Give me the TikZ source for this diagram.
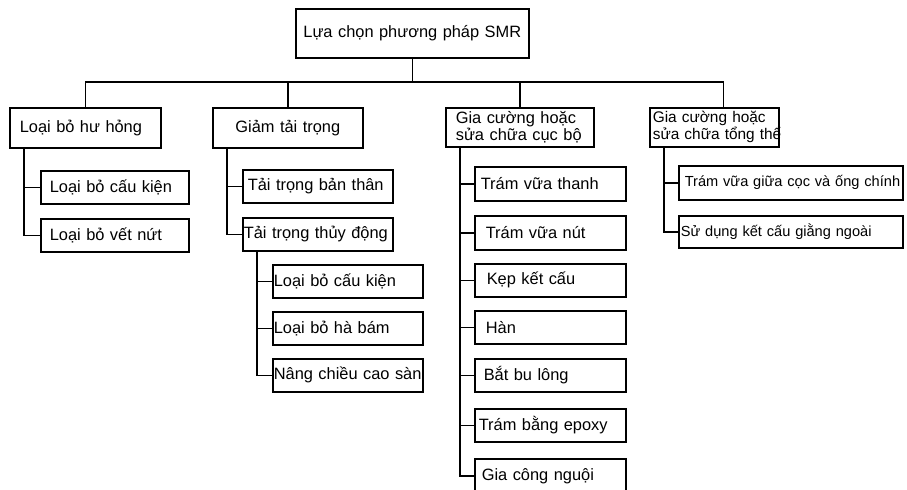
\documentclass[tikz,border=0pt]{standalone}
\usepackage{fontspec}
\setmainfont{Liberation Sans}

\tikzset{
  box/.style={draw,line width=.8pt,anchor=north west,inner xsep=2.5pt,inner ysep=0pt,align=left},
  cell/.style={box,execute at begin node={\hbox\bgroup},execute at end node={\egroup}},
  link/.style={line width=.7pt}
}

\begin{document}
\begin{tikzpicture}[x=.5pt,y=-.5pt,font=\fontsize{8.2}{8.6}\selectfont]
\useasboundingbox (0,0) rectangle (907,489);
% root
\node[cell,align=center,text width=111.5pt,minimum height=24.5pt] (top) at (295,8) {Lựa chọn phương pháp SMR};
\coordinate (bar) at (0,82);
% first level
\node[cell,inner xsep=5pt,text width=65.5pt,minimum height=20pt] (hh) at (9,107) {Loại bỏ hư hỏng};
\node[cell,align=center,text width=70pt,minimum height=20pt] (giam) at (212,107) {Giảm tải trọng};
\node[box,inner xsep=5pt,text width=64pt,minimum height=19.5pt] (cucbo) at (445,107) {\mbox{Gia cường hoặc}\\\mbox{sửa chữa cục bộ}};
\node[box,font=\fontsize{7.7}{8.4}\selectfont,inner xsep=1.5pt,text width=61.5pt,minimum height=19.5pt] (tongthe) at (649,107) {\mbox{Gia cường hoặc}\\\mbox{sửa chữa tổng thể}};
\coordinate (tt top) at ([xshift=4.5pt]tongthe.north);
\draw[link] (top.south) -- (top.south |- bar);
\draw[link] (hh.north) |- (tt top |- bar) -- (tt top);
\draw[link] (giam.north) -- (giam.north |- bar);
\draw[link] (cucbo.north) -- (cucbo.north |- bar);
% Loai bo hu hong
\node[cell,inner xsep=4.5pt,text width=65pt,minimum height=16.5pt] (hh1) at (40,170) {Loại bỏ cấu kiện};
\node[cell,inner xsep=4.5pt,text width=65pt,minimum height=16.5pt] (hh2) at (40,218) {Loại bỏ vết nứt};
\draw[link] ([xshift=7.5pt]hh.south west) |- (hh1.west);
\draw[link] ([xshift=7.5pt]hh.south west) |- (hh2.west);
% Giam tai trong
\node[cell,text width=70pt,minimum height=16.5pt] (g1) at (242,169) {Tải trọng bản thân};
\node[cell,inner xsep=.5pt,text width=74pt,minimum height=16.5pt] (g2) at (242,217) {Tải trọng thủy động};
\draw[link] ([xshift=7.5pt]giam.south west) |- (g1.west);
\draw[link] ([xshift=7.5pt]giam.south west) |- (g2.west);
\node[cell,inner xsep=.5pt,text width=74pt,minimum height=16.5pt] (gg1) at (272,264) {Loại bỏ cấu kiện};
\node[cell,inner xsep=.5pt,text width=74pt,minimum height=16.5pt] (gg2) at (272,311) {Loại bỏ hà bám};
\node[cell,inner xsep=.5pt,text width=74pt,minimum height=16.5pt] (gg3) at (272,358) {Nâng chiều cao sàn};
\draw[link] ([xshift=7.5pt]g2.south west) |- (gg1.west);
\draw[link] ([xshift=7.5pt]g2.south west) |- (gg2.west);
\draw[link] ([xshift=7.5pt]g2.south west) |- (gg3.west);
% Gia cuong cuc bo
\node[cell,inner xsep=3pt,text width=69.5pt,minimum height=17pt] (c1) at (474,166) {Trám vữa thanh};
\node[cell,inner xsep=5.5pt,text width=64.5pt,minimum height=17pt] (c2) at (474,215) {Trám vữa nút};
\node[cell,inner xsep=6pt,text width=63.5pt,minimum height=16.5pt] (c3) at (474,263) {Kẹp kết cấu};
\node[cell,inner xsep=5.5pt,text width=64.5pt,minimum height=16.5pt] (c4) at (474,310) {Hàn};
\node[cell,inner xsep=4.5pt,text width=66.5pt,minimum height=16.5pt] (c5) at (474,358) {Bắt bu lông};
\node[cell,inner xsep=2pt,text width=71.5pt,minimum height=16.5pt] (c6) at (474,408) {Trám bằng epoxy};
\node[cell,inner xsep=3.5pt,text width=68.5pt,minimum height=17pt] (c7) at (474,458) {Gia công nguội};
\draw[link] ([xshift=7.5pt]cucbo.south west) |- (c1.west);
\draw[link] ([xshift=7.5pt]cucbo.south west) |- (c2.west);
\draw[link] ([xshift=7.5pt]cucbo.south west) |- (c3.west);
\draw[link] ([xshift=7.5pt]cucbo.south west) |- (c4.west);
\draw[link] ([xshift=7.5pt]cucbo.south west) |- (c5.west);
\draw[link] ([xshift=7.5pt]cucbo.south west) |- (c6.west);
\draw[link] ([xshift=7.5pt]cucbo.south west) |- (c7.west);
% Gia cuong tong the
\node[cell,font=\fontsize{7.3}{8}\selectfont,inner xsep=3pt,text width=106pt,minimum height=17pt] (t1) at (678,165) {Trám vữa giữa cọc và ống chính};
\node[cell,font=\fontsize{7.3}{8}\selectfont,inner xsep=1pt,text width=110pt,minimum height=16pt] (t2) at (678,215) {Sử dụng kết cấu giằng ngoài};
\draw[link] ([xshift=7.5pt]tongthe.south west) |- (t1.west);
\draw[link] ([xshift=7.5pt]tongthe.south west) |- (t2.west);
\end{tikzpicture}
\end{document}
